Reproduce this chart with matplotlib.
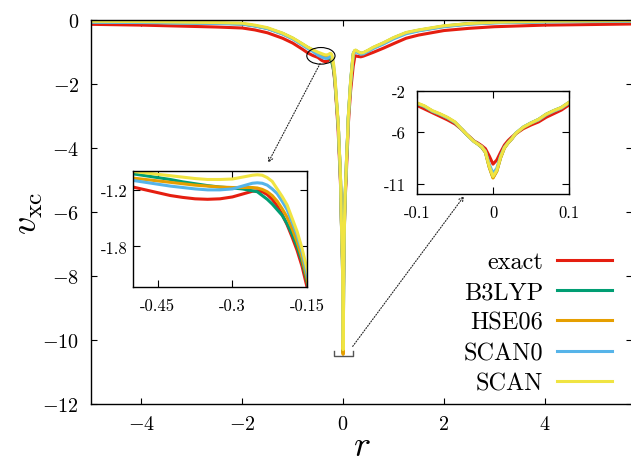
import matplotlib
matplotlib.use('Agg')
import matplotlib.pyplot as plt
from matplotlib.patches import Ellipse, ConnectionPatch

plt.rcParams['font.family'] = 'serif'
plt.rcParams['font.serif'] = ['cmr10']
plt.rcParams['mathtext.fontset'] = 'cm'
plt.rcParams['axes.formatter.use_mathtext'] = True

# ---------------- data ----------------
r = [-5.0, -4.0, -3.0, -2.5, -2.0, -1.75, -1.5, -1.2, -1.0, -0.8, -0.7, -0.6,
     -0.5, -0.475, -0.45, -0.425, -0.4, -0.375, -0.35, -0.325, -0.3, -0.29, -0.28, -0.27,
     -0.26, -0.25, -0.24, -0.23, -0.22, -0.21, -0.2, -0.19, -0.18, -0.17, -0.16, -0.15,
     -0.125, -0.1, -0.09, -0.08, -0.07, -0.06, -0.05, -0.04, -0.035, -0.03,
     -0.025, -0.02, -0.015, -0.01, -0.005, 0.0, 0.005, 0.01, 0.015, 0.02,
     0.025, 0.03, 0.04, 0.05, 0.06, 0.07, 0.08, 0.09, 0.1, 0.125,
     0.15, 0.2, 0.23, 0.25, 0.3, 0.35, 0.4, 0.5, 0.6, 0.8,
     1.0, 1.25, 1.5, 2.0, 2.5, 3.0, 4.0, 5.0, 5.73]

v_exact = [-0.135, -0.16, -0.20, -0.22, -0.25, -0.31, -0.40, -0.57, -0.72, -0.92, -1.03, -1.11,
           -1.17, -1.20, -1.23, -1.26, -1.28, -1.295, -1.30, -1.295, -1.275, -1.26, -1.245, -1.23,
           -1.215, -1.21, -1.22, -1.25, -1.30, -1.37, -1.46, -1.57, -1.70, -1.84, -2.01, -2.23,
           -2.8, -3.4, -3.75, -4.1, -4.45, -4.8, -5.2, -5.8, -6.18, -6.5,
           -6.85, -7.05, -7.3, -7.6, -8.3, -9.1, -8.7, -7.95, -7.25, -6.8,
           -6.45, -6.15, -5.65, -5.3, -5.0, -4.55, -4.2, -3.85, -3.35, -2.75,
           -2.2, -1.45, -1.17, -1.12, -1.14, -1.15, -1.13, -1.07, -1.01, -0.88,
           -0.74, -0.57, -0.47, -0.33, -0.26, -0.21, -0.16, -0.14, -0.125]

v_b3lyp = [-0.06, -0.07, -0.09, -0.10, -0.12, -0.18, -0.26, -0.42, -0.57, -0.76, -0.86, -0.94,
           -1.03, -1.05, -1.07, -1.09, -1.115, -1.135, -1.155, -1.17, -1.18, -1.185, -1.19, -1.20,
           -1.21, -1.22, -1.26, -1.30, -1.35, -1.41, -1.47, -1.56, -1.67, -1.80, -1.96, -2.17,
           -2.7, -3.2, -3.5, -3.95, -4.25, -4.6, -5.05, -5.8, -6.2, -6.55,
           -6.9, -7.15, -7.45, -7.95, -9.35, -10.4, -9.75, -8.45, -7.5, -7.0,
           -6.6, -6.1, -5.5, -5.1, -4.75, -4.25, -3.9, -3.6, -3.1, -2.5,
           -1.9, -1.05, -0.96, -0.95, -1.0, -1.04, -1.03, -0.95, -0.86, -0.72,
           -0.56, -0.40, -0.32, -0.19, -0.11, -0.08, -0.05, -0.04, -0.03]

v_hse06 = [-0.06, -0.07, -0.09, -0.10, -0.12, -0.18, -0.26, -0.43, -0.58, -0.77, -0.87, -0.96,
           -1.075, -1.09, -1.105, -1.12, -1.135, -1.15, -1.16, -1.17, -1.175, -1.175, -1.175, -1.175,
           -1.175, -1.18, -1.195, -1.22, -1.26, -1.32, -1.40, -1.49, -1.61, -1.75, -1.92, -2.14,
           -2.7, -3.2, -3.5, -3.95, -4.25, -4.6, -5.05, -5.8, -6.2, -6.55,
           -6.9, -7.15, -7.45, -7.95, -9.4, -10.45, -9.8, -8.5, -7.55, -7.05,
           -6.65, -6.15, -5.55, -5.15, -4.8, -4.3, -3.95, -3.65, -3.15, -2.55,
           -1.95, -1.1, -0.98, -0.96, -1.01, -1.05, -1.04, -0.96, -0.87, -0.73,
           -0.57, -0.41, -0.33, -0.20, -0.12, -0.08, -0.05, -0.04, -0.03]

v_scan0 = [-0.07, -0.08, -0.10, -0.11, -0.13, -0.19, -0.27, -0.44, -0.59, -0.79, -0.89, -0.98,
           -1.10, -1.12, -1.14, -1.16, -1.175, -1.19, -1.20, -1.20, -1.19, -1.175, -1.16, -1.145,
           -1.13, -1.125, -1.13, -1.15, -1.19, -1.24, -1.32, -1.41, -1.54, -1.68, -1.86, -2.09,
           -2.65, -3.2, -3.5, -3.95, -4.25, -4.6, -5.05, -5.8, -6.2, -6.55,
           -6.9, -7.15, -7.4, -7.85, -9.1, -10.0, -9.5, -8.3, -7.45, -7.0,
           -6.6, -6.1, -5.5, -5.1, -4.8, -4.3, -3.95, -3.65, -3.15, -2.55,
           -1.95, -1.1, -0.99, -0.98, -1.03, -1.07, -1.06, -0.98, -0.89, -0.75,
           -0.59, -0.43, -0.34, -0.21, -0.13, -0.09, -0.06, -0.05, -0.04]

v_scan = [-0.04, -0.05, -0.07, -0.08, -0.10, -0.16, -0.24, -0.41, -0.56, -0.75, -0.85, -0.93,
          -1.005, -1.02, -1.035, -1.05, -1.065, -1.08, -1.09, -1.09, -1.085, -1.075, -1.065, -1.055,
          -1.045, -1.04, -1.045, -1.07, -1.11, -1.19, -1.27, -1.36, -1.50, -1.64, -1.82, -2.04,
          -2.6, -3.15, -3.45, -3.9, -4.2, -4.55, -5.0, -5.8, -6.18, -6.55,
          -6.9, -7.15, -7.4, -7.9, -9.3, -10.3, -9.7, -8.4, -7.5, -7.0,
          -6.6, -6.1, -5.5, -5.1, -4.75, -4.25, -3.9, -3.6, -3.1, -2.5,
          -1.9, -1.05, -0.95, -0.94, -0.99, -1.03, -1.02, -0.94, -0.85, -0.71,
          -0.55, -0.39, -0.31, -0.18, -0.11, -0.07, -0.04, -0.03, -0.02]

labels = ['exact', 'B3LYP', 'HSE06', 'SCAN0', 'SCAN']
series = [v_exact, v_b3lyp, v_hse06, v_scan0, v_scan]
colors = ['#e51e10', '#009e73', '#e69f00', '#56b4e9', '#f0e442']

main_xticks = [-4, -2, 0, 2, 4]
main_xticklabels = ['$-4$', '$-2$', '$0$', '$2$', '$4$']
main_yticks = [0, -2, -4, -6, -8, -10, -12]
main_yticklabels = ['$0$', '$-2$', '$-4$', '$-6$', '$-8$', '$-10$', '$-12$']

in1_xticks = [-0.45, -0.3, -0.15]
in1_xticklabels = ['-0.45', '-0.3', '-0.15']
in1_yticks = [-1.2, -1.8]
in1_yticklabels = ['-1.2', '-1.8']

in2_xticks = [-0.1, 0.0, 0.1]
in2_xticklabels = ['-0.1', '0', '0.1']
in2_yticks = [-2, -6, -11]
in2_yticklabels = ['-2', '-6', '-11']

# annotation geometry (data coords of main axes)
ELL_CENTER = (-0.44, -1.12)
ELL_W, ELL_H = 0.56, 0.52
BR_X = (-0.19, 0.19)
BR_Y = (-10.33, -10.49)

# ---------------- figure ----------------
W, H = 631, 464
fig = plt.figure(figsize=(W / 100, H / 100), dpi=100)

ax = fig.add_axes([91 / W, 59 / H, 541 / W, 384 / H])
lines = []
for v, c, lab in zip(series, colors, labels):
    ln, = ax.plot(r, v, color=c, lw=2.2, label=lab, solid_joinstyle='round')
    lines.append(ln)
ax.set_xlim(-5, 5.73)
ax.set_ylim(-12, 0)
ax.set_xticks(main_xticks)
ax.set_xticklabels(main_xticklabels)
ax.set_yticks(main_yticks)
ax.set_yticklabels(main_yticklabels)
ax.tick_params(direction='in', top=True, right=True, length=4.5, width=0.8, labelsize=14.5)
ax.tick_params(axis='x', pad=8)
ax.tick_params(axis='y', pad=8.5)
for s in ax.spines.values():
    s.set_linewidth(1.0)
ax.set_xlabel('$r$', fontsize=26, va='bottom')
ax.set_ylabel(r'$v_{\rm xc}$', fontsize=26)
ax.xaxis.set_label_coords(0.5, -0.152)
ax.yaxis.set_label_coords(-0.085, 0.5)

ax.add_patch(Ellipse(ELL_CENTER, ELL_W, ELL_H, fill=False, ec='black', lw=0.8, zorder=5))
ax.plot([BR_X[0], BR_X[0], BR_X[1], BR_X[1]], [BR_Y[0], BR_Y[1], BR_Y[1], BR_Y[0]],
        color='#555555', lw=1.0, zorder=5)

ax.legend(lines, labels, loc='upper right', bbox_to_anchor=(612 / W, (H - 252) / H),
          bbox_transform=fig.transFigure, frameon=False, markerfirst=False,
          fontsize=17.5, handlelength=2.25, handletextpad=0.57, labelspacing=0.34,
          borderpad=0, borderaxespad=0)

# inset 1
ax1 = fig.add_axes([133 / W, (H - 288) / H, 174 / W, 116 / H])
for v, c in zip(series, colors):
    ax1.plot(r, v, color=c, lw=2.2, solid_joinstyle='round')
ax1.set_xlim(-0.5, -0.15)
ax1.set_ylim(-2.23, -1.0)
ax1.set_xticks(in1_xticks)
ax1.set_xticklabels(in1_xticklabels)
ax1.set_yticks(in1_yticks)
ax1.set_yticklabels(in1_yticklabels)
ax1.tick_params(direction='in', top=True, right=True, length=5, width=0.8, labelsize=12)
ax1.tick_params(axis='x', pad=8)
ax1.tick_params(axis='y', pad=4)
for s in ax1.spines.values():
    s.set_linewidth(1.0)

# inset 2
ax2 = fig.add_axes([417 / W, (H - 195) / H, 152 / W, 103 / H])
for v, c in zip(series, colors):
    ax2.plot(r, v, color=c, lw=2.2, solid_joinstyle='round')
ax2.set_xlim(-0.1, 0.1)
ax2.set_ylim(-12, -2)
ax2.set_xticks(in2_xticks)
ax2.set_xticklabels(in2_xticklabels)
ax2.set_yticks(in2_yticks)
ax2.set_yticklabels(in2_yticklabels)
ax2.tick_params(direction='in', top=True, right=True, length=5, width=0.8, labelsize=12)
ax2.tick_params(axis='x', pad=8)
ax2.tick_params(axis='y', pad=8)
for s in ax2.spines.values():
    s.set_linewidth(1.0)

# dotted arrows
con1 = ConnectionPatch(xyA=(-0.456, -1.36), coordsA=ax.transData,
                       xyB=(0.776, 1.07), coordsB=ax1.transAxes,
                       arrowstyle='->', linestyle=(0, (1, 1.5)), lw=0.8, color='#222222',
                       mutation_scale=8)
fig.add_artist(con1)
con2 = ConnectionPatch(xyA=(0.19, -10.2), coordsA=ax.transData,
                       xyB=(0.31, -0.02), coordsB=ax2.transAxes,
                       arrowstyle='->', linestyle=(0, (1, 1.5)), lw=0.8, color='#222222',
                       mutation_scale=8)
fig.add_artist(con2)

fig.savefig('out.png', dpi=100)
